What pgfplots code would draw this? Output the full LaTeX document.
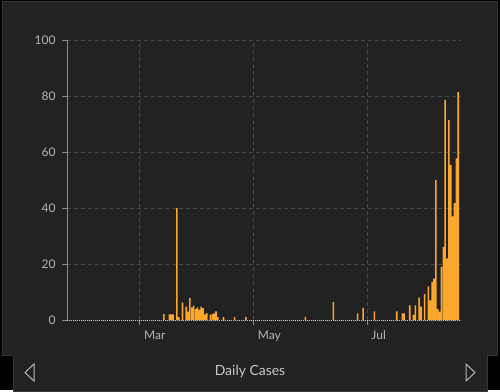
\documentclass[border=0pt]{standalone}
\usepackage{pgfplots}
\pgfplotsset{compat=1.18}
\usepackage{pgfplotstable}
\usepackage{fontspec}
\setmainfont{Lato}
\definecolor{panel}{HTML}{222222}
\definecolor{panelborder}{HTML}{363636}
\definecolor{gridc}{HTML}{4A4A4A}
\definecolor{axisc}{HTML}{8A8A8A}
\definecolor{basec}{HTML}{C8C8C8}
\definecolor{textc}{HTML}{B4B4B4}
\definecolor{barc}{HTML}{FAA72C}
\pgfplotstableread{
day val
52 2.1
55 2
56 2
57 2
59 40
60 1
62 6.2
64 4.8
65 3
66 7.9
67 4.5
68 5.1
69 3.9
70 4.5
71 3.7
72 4.8
73 4.2
74 2
75 2.5
77 1.9
78 2.1
79 2.4
80 3.1
81 1
84 1
90 1
96 1
128 1
143 6.4
156 2.4
159 4.3
165 3.1
177 3.1
180 2.4
181 2.4
184 5.2
186 1.8
187 5.2
189 8
190 4.8
192 9.2
194 12
195 7
196 13.6
197 14.8
198 50
199 4
200 3
201 19
202 26
203 78.6
204 22
205 71.4
206 55.4
207 37
208 41.7
209 57.7
210 81.5
}\cases
\begin{document}
\begin{tikzpicture}[x=1bp,y=1bp]
\fill[black] (0,0) rectangle (500,390);
\filldraw[fill=panel, draw=panelborder, line width=1bp]
  (2,388) -- (497,388) -- (497,35) -- (487,35) -- (487,-1) -- (13,-1) -- (13,35) -- (2,35) -- cycle;
\begin{axis}[
  at={(67bp,70bp)}, anchor=south west,
  scale only axis, width=394bp, height=280bp,
  xmin=0, xmax=211.5, ymin=0, ymax=100,
  axis lines=left, axis line style={-},
  x axis line style={draw=basec, line width=0.8bp, dash pattern=on 1bp off 1bp},
  y axis line style={draw=axisc, line width=0.8bp},
  xtick={39,100,161}, xticklabels={Mar,May,Jul},
  ytick={0,20,40,60,80,100},
  grid=major,
  major grid style={draw=gridc, line width=0.7bp, dash pattern=on 4bp off 3bp},
  tick align=outside, major tick length=5bp,
  tick style={draw=axisc, line width=0.8bp},
  ticklabel style={font=\fontsize{12}{14}\selectfont, text=textc},
  /pgf/number format/assume math mode=true,
  xticklabel style={anchor=north west, xshift=1bp, yshift=-2bp},
  yticklabel style={xshift=-3bp},
  clip=false,
]
\addplot[ybar, bar width=0.85, fill=barc, draw=none] table[x=day, y=val] {\cases};
\end{axis}
\draw[textc, line width=1bp, line join=miter] (34,26) -- (25,17.5) -- (34,9) -- cycle;
\draw[textc, line width=1bp, line join=miter] (466,26) -- (475,17.5) -- (466,9) -- cycle;
\node[text=basec, font=\fontsize{14}{16}\selectfont] at (250,18) {Daily Cases};
\end{tikzpicture}
\end{document}
